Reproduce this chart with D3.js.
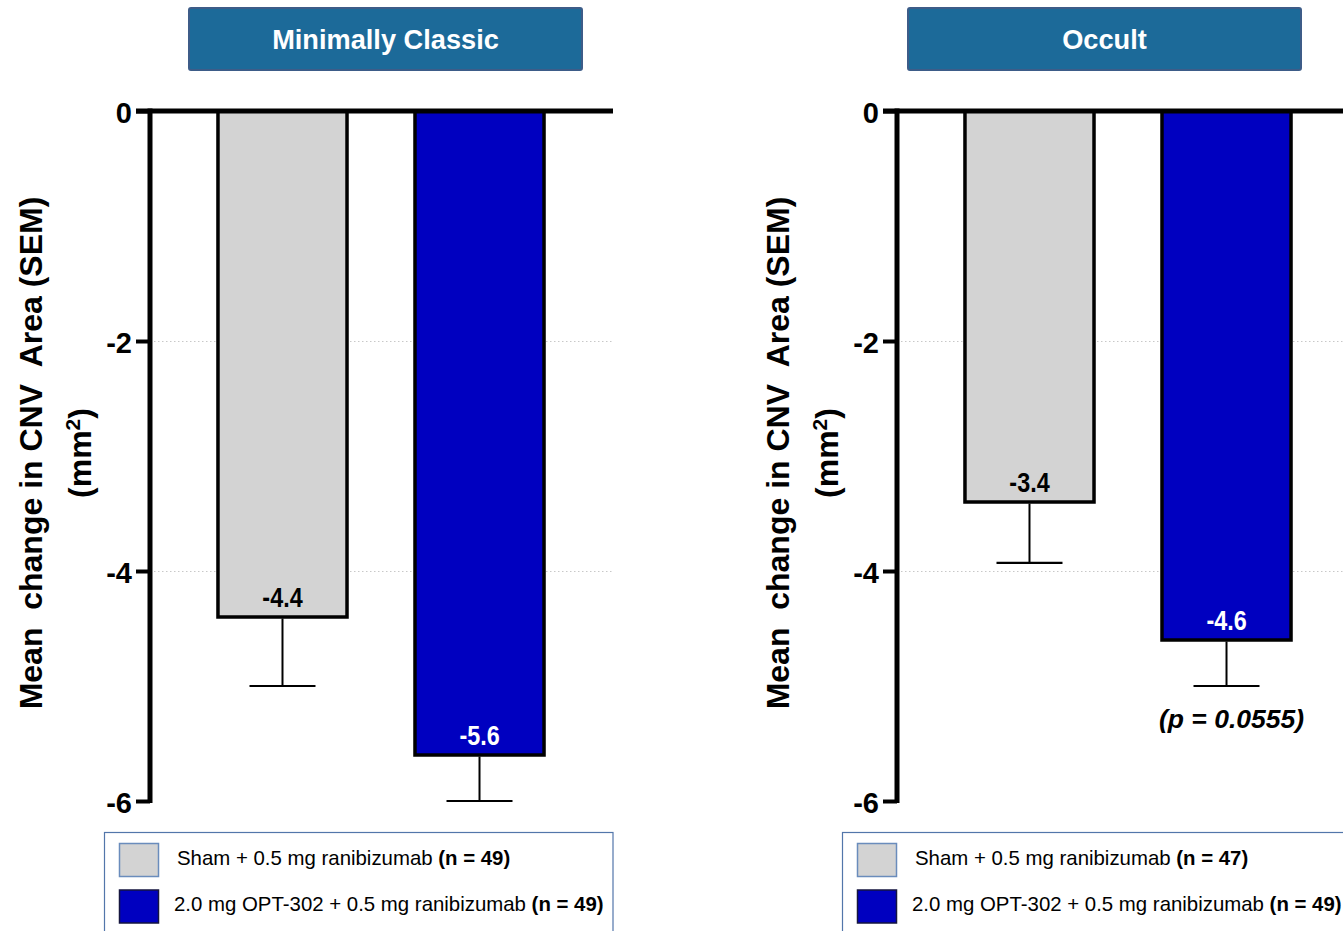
<!DOCTYPE html>
<html>
<head>
<meta charset="utf-8">
<script src="https://cdn.jsdelivr.net/npm/d3@7"></script>
<style>
  html, body { margin: 0; padding: 0; background: #fff; }
  svg { display: block; }
  text { font-family: "Liberation Sans", Arial, Helvetica, sans-serif; }
</style>
</head>
<body>
<svg id="chart" width="1343" height="931"></svg>
<script>
// ---- Data ---------------------------------------------------------------
const groups = ["Sham + 0.5 mg ranibizumab", "2.0 mg OPT-302 + 0.5 mg ranibizumab"];
const panelTitles = ["Minimally Classic", "Occult"];

const meanMinClassic = [-4.4, -5.6];
const semMinClassic  = [0.6, 0.4];
const nMinClassic    = [49, 49];

const meanOccult = [-3.4, -4.6];
const semOccult  = [0.53, 0.4];
const nOccult    = [47, 49];

const yTicks = [0, -2, -4, -6];
const gridValues = [-2, -4];
const pValueOccult = "(p = 0.0555)";
const yTitle = "Mean  change in CNV  Area (SEM)";

// ---- Styling / layout ---------------------------------------------------
const barFill   = ["#d3d3d3", "#0000c0"];
const labelFill = ["#000000", "#ffffff"];
const swatchStroke = ["#6a8cbc", "#15153f"];
const titleFill = "#1c6a99";
const titleStroke = "#3d5c88";

const panels = [
  { title: panelTitles[0], mean: meanMinClassic, sem: semMinClassic, n: nMinClassic,
    axisX: 150, titleX: 189, legendX: 104.5, pValue: null },
  { title: panelTitles[1], mean: meanOccult, sem: semOccult, n: nOccult,
    axisX: 897, titleX: 908, legendX: 842.5, pValue: pValueOccult }
];

const svg = d3.select("#chart");
svg.append("rect").attr("width", 1343).attr("height", 931).attr("fill", "#fff");

const y = d3.scaleLinear().domain([0, -6]).range([111, 801]);
const x = d3.scaleBand().domain(groups).range([0, 462])
  .paddingInner(0.345).paddingOuter(0.345);

// Condensed bold face for the bar value labels (falls back to a squeezed bold sans)
function hasFont(family) {
  const t = svg.append("text").attr("font-size", 40).attr("font-weight", "bold")
    .style("font-family", `'${family}', monospace`).text("-4.4 -5.6 mmm");
  const w1 = t.node().getComputedTextLength();
  t.style("font-family", "monospace");
  const w2 = t.node().getComputedTextLength();
  t.remove();
  return Math.abs(w1 - w2) > 1;
}
const narrowOK = hasFont("Liberation Sans Narrow");
const valueFont = narrowOK ? "'Liberation Sans Narrow', 'Arial Narrow', sans-serif"
                           : "'Liberation Sans', Arial, sans-serif";
const valueScaleX = narrowOK ? 1 : 0.82;

panels.forEach(p => {
  const g = svg.append("g").attr("transform", `translate(${p.axisX},0)`);

  // dotted gridlines behind bars
  g.selectAll("line.grid").data(gridValues).join("line")
    .attr("class", "grid")
    .attr("x1", 0).attr("x2", 462)
    .attr("y1", d => y(d) + 0.5).attr("y2", d => y(d) + 0.5)
    .attr("stroke", "#c8c8c8").attr("stroke-width", 1)
    .attr("stroke-dasharray", "1.5,2.5");

  const data = groups.map((k, i) => ({ key: k, i, mean: p.mean[i], sem: p.sem[i] }));

  // bars
  g.selectAll("rect.bar").data(data).join("rect")
    .attr("class", "bar")
    .attr("x", d => x(d.key))
    .attr("y", y(0))
    .attr("width", x.bandwidth())
    .attr("height", d => y(d.mean) - y(0))
    .attr("fill", d => barFill[d.i])
    .attr("stroke", "#000").attr("stroke-width", 3.5);

  // SEM error bars (downward)
  const eb = g.selectAll("g.err").data(data).join("g").attr("class", "err");
  eb.append("line")
    .attr("x1", d => x(d.key) + x.bandwidth() / 2)
    .attr("x2", d => x(d.key) + x.bandwidth() / 2)
    .attr("y1", d => y(d.mean) + 1.5)
    .attr("y2", d => y(d.mean - d.sem))
    .attr("stroke", "#000").attr("stroke-width", 2);
  eb.append("line")
    .attr("x1", d => x(d.key) + x.bandwidth() / 2 - 33)
    .attr("x2", d => x(d.key) + x.bandwidth() / 2 + 33)
    .attr("y1", d => y(d.mean - d.sem))
    .attr("y2", d => y(d.mean - d.sem))
    .attr("stroke", "#000").attr("stroke-width", 2.2);

  // value labels inside the bars
  g.selectAll("text.val").data(data).join("text")
    .attr("class", "val")
    .attr("transform", d => `translate(${x(d.key) + x.bandwidth() / 2},${y(d.mean) - 10}) scale(${valueScaleX},1)`)
    .attr("text-anchor", "middle")
    .style("font-family", valueFont)
    .attr("font-weight", "bold").attr("font-size", 28.5)
    .attr("fill", d => labelFill[d.i])
    .text(d => d.mean.toFixed(1));

  // zero line across the top
  g.append("line")
    .attr("x1", -14).attr("x2", 463)
    .attr("y1", y(0)).attr("y2", y(0))
    .attr("stroke", "#000").attr("stroke-width", 5);

  // y axis
  const axis = d3.axisLeft(y).tickValues(yTicks).tickSize(14).tickSizeOuter(0)
    .tickPadding(4).tickFormat(d => String(d));
  const ag = g.append("g").call(axis);
  ag.select(".domain").attr("stroke", "#000").attr("stroke-width", 5)
    .attr("d", `M0,${y(0) - 2.5}V${y(-6) + 2}`);
  ag.selectAll(".tick line").attr("stroke", "#000").attr("stroke-width", 4);
  ag.selectAll(".tick text")
    .attr("dy", null).attr("y", 11)
    .style("font-family", "'Liberation Sans', Arial, sans-serif")
    .attr("font-size", 29).attr("font-weight", "bold").attr("fill", "#000");

  // y axis title (two lines, rotated)
  const tt = g.append("g").attr("transform", `translate(-108,453) rotate(-90)`);
  tt.append("text").attr("text-anchor", "middle")
    .attr("font-size", 32).attr("font-weight", "bold").attr("fill", "#000")
    .attr("xml:space", "preserve").style("white-space", "pre")
    .text(yTitle);
  const t2 = tt.append("text").attr("text-anchor", "middle").attr("y", 49)
    .attr("font-size", 32).attr("font-weight", "bold").attr("fill", "#000");
  t2.append("tspan").text("(mm");
  t2.append("tspan").attr("font-size", 21).attr("baseline-shift", "super").text("2");
  t2.append("tspan").text(")");

  // p-value annotation
  if (p.pValue) {
    const d = data[1];
    g.append("text")
      .attr("x", x(d.key) + x.bandwidth() / 2 + 5)
      .attr("y", y(d.mean - d.sem) + 42)
      .attr("text-anchor", "middle")
      .attr("font-size", 26.5).attr("font-weight", "bold").attr("font-style", "italic")
      .attr("fill", "#000")
      .text(p.pValue);
  }

  // panel title box
  svg.append("rect")
    .attr("x", p.titleX).attr("y", 8).attr("width", 393).attr("height", 62)
    .attr("rx", 2).attr("fill", titleFill).attr("stroke", titleStroke).attr("stroke-width", 2);
  svg.append("text")
    .attr("x", p.titleX + 196.5).attr("y", 49)
    .attr("text-anchor", "middle").attr("font-size", 27.2).attr("font-weight", "bold")
    .attr("fill", "#fff").text(p.title);

  // legend
  const lg = svg.append("g").attr("transform", `translate(${p.legendX},832.5)`);
  lg.append("rect").attr("width", 508.5).attr("height", 120)
    .attr("fill", "#fff").attr("stroke", "#5276aa").attr("stroke-width", 1.2);
  const rows = lg.selectAll("g.row").data(data).join("g")
    .attr("class", "row")
    .attr("transform", (d, i) => `translate(0,${i * 46.5})`);
  rows.append("rect")
    .attr("x", 15).attr("y", 11).attr("width", 39).attr("height", 33)
    .attr("fill", d => barFill[d.i]).attr("stroke", d => swatchStroke[d.i]).attr("stroke-width", 1.5);
  const lt = rows.append("text")
    .attr("x", (d, i) => i === 0 ? 72.5 : 69.5).attr("y", 32)
    .attr("font-size", 20.4).attr("fill", "#000")
    .attr("xml:space", "preserve").style("white-space", "pre");
  lt.append("tspan").text(d => d.key + " ");
  lt.append("tspan").attr("font-weight", "bold").text(d => `(n = ${p.n[d.i]})`);
});
</script>
</body>
</html>
